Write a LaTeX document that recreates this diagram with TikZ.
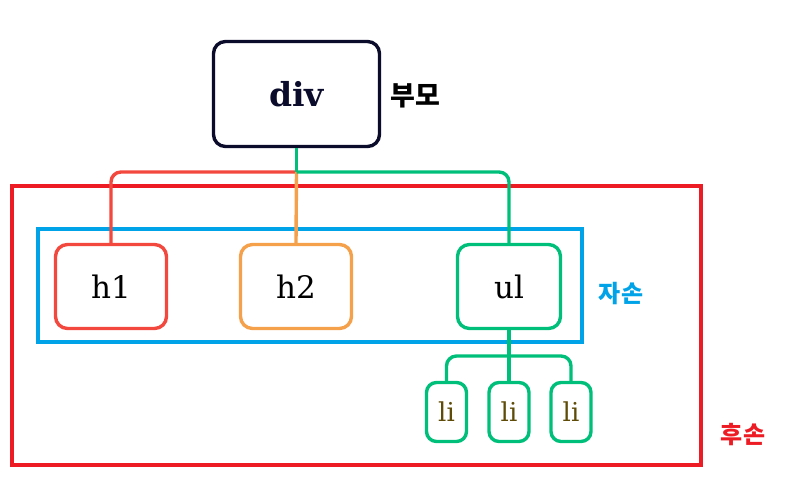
\documentclass[tikz,border=0pt]{standalone}
\usepackage{fontspec}
\setmainfont{DejaVu Serif}
\newfontfamily\kofont{Noto Sans CJK KR}
\definecolor{divline}{HTML}{0B0B2B}
\definecolor{hone}{HTML}{F2483E}
\definecolor{htwo}{HTML}{F5A04A}
\definecolor{ulgreen}{HTML}{00BF7A}
\definecolor{kidblue}{HTML}{00A2E8}
\definecolor{descred}{HTML}{ED1C24}
\definecolor{litext}{HTML}{5E4C08}
\tikzset{
  tagbox/.style={rectangle, draw=#1, line width=3.4pt, rounded corners=12pt, fill=white, text=black},
  headbox/.style={tagbox=#1, minimum width=111pt, minimum height=84pt, font=\fontsize{31}{33}\selectfont},
  libox/.style={tagbox=ulgreen, minimum width=40pt, minimum height=59pt, rounded corners=10pt, text=litext, font=\fontsize{26}{28}\selectfont},
  wire/.style={line width=3.4pt},
  kolabel/.style={font=\kofont\bfseries\fontsize{#1}{#1}\selectfont},
}
\begin{document}
\begin{tikzpicture}[x=1pt, y=-1pt]
    \useasboundingbox (0,0) rectangle (788,489);
    %groups
    \draw[descred, line width=4.4pt] (12,186) rectangle (701,465);
    \draw[kidblue, line width=4.4pt] (38,229) rectangle (582,342);
    %tags
    \node[tagbox=divline, minimum width=166pt, minimum height=105pt, text=divline, font=\bfseries\fontsize{33}{35}\selectfont](div) at (296.5,94) {div};
    \node[headbox=hone](h1) at (111,286.5) {h1};
    \node[headbox=htwo](h2) at (296,286.5) {h2};
    \node[headbox=ulgreen, minimum width=103pt](ul) at (509,286.5) {ul};
    \node[libox](li1) at (446.5,412) {li};
    \node[libox](li2) at (509,412) {li};
    \node[libox](li3) at (571,412) {li};
    %wires
    \coordinate (fork) at (div.south |- 0,172);
    \coordinate (lifork) at (ul.south |- 0,356);
    \draw[wire, hone, rounded corners=10pt] (fork) -| (h1.north);
    \draw[wire, htwo] (fork) -- (h2.north);
    \draw[wire, ulgreen] (div.south) -- (fork);
    \draw[wire, ulgreen, rounded corners=10pt] (fork) -| (ul.north);
    \draw[wire, ulgreen] (ul.south) -- (li2.north);
    \draw[wire, ulgreen, rounded corners=10pt] (lifork) -| (li1.north);
    \draw[wire, ulgreen, rounded corners=10pt] (lifork) -| (li3.north);
    %labels
    \node[kolabel=27](parent) at (415,96) {부모};
    \node[kolabel=24, text=kidblue](kids) at (621,294) {자손};
    \node[kolabel=24, text=descred](desc) at (743,435) {후손};
\end{tikzpicture}
\end{document}
